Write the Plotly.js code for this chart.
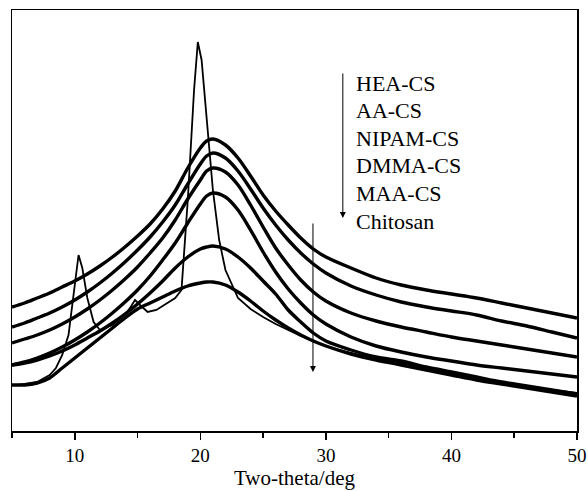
<!DOCTYPE html>
<html><head><meta charset="utf-8">
<script src="https://cdn.plot.ly/plotly-3.0.1.min.js"></script>
<style>html,body{margin:0;padding:0;background:#fff}</style>
</head><body><div id="chart" style="width:588px;height:491px"></div>
<script>
// Two-theta (deg) sample positions
const twoTheta = [5,6,7,8,9,10,11,12,13,14,15,16,17,18,19,20,20.5,21,22,23,24,25,26,27,28,29,30,32,34,36,38,40,42,44,46,48,50];
// intensities (a.u.)
const heaCS   = [124,128,133,138,144,150,157,165,174,184,195,207,222,240,263,283,290,292,286,273,255,236,220,206,193,182,174,163,153,146,141,137,133,128,123,118,113];
const aaCS    = [104,108,113,118,124,131,139,148,158,169,181,194,209,226,247,267,275,278,273,260,242,223,206,191,178,167,158,145,136,129,124,120,116,110,105,99,93];
const nipamCS = [88,92,96,101,107,114,122,131,141,152,164,178,193,211,232,251,260,263,259,246,226,204,183,166,151,139,130,118,110,104,99,94,90,86,82,78,74];
const dmmaCS  = [66,69,73,78,84,91,99,108,118,129,141,155,171,188,208,227,235,238,234,221,201,179,159,142,128,116,107,94,85,79,74,70,66,63,60,57,54];
const maaCS   = [66,68,71,75,80,86,93,100,108,117,127,138,150,163,174,182,184,185,182,174,163,150,137,121,109,98,90,81,74,70,64,59,54,49,45,41,37];
const lowHump = [46,46,48,53,63,73,83,93,103,113,122,128,134,140,145,148,149,149,146,139,130,120,111,103,96,90,85,77,71,66,61,56,51,47,43,39,35];
const chitoTheta = [5,6,7,8,8.5,9,9.5,10,10.3,10.6,11,11.5,12,13,14,14.5,14.8,15.2,15.8,16.5,17,17.5,18,18.5,19,19.5,19.8,20.1,20.5,21,21.5,22,23,23.7,24,25,26,27,28,29,30,32,34,36,38,40,42,44,46,48,50];
const chitosan = [46,47,49,56,63,76,96,146,176,163,133,109,101,106,116,125,131,126,119,121,125,129,133,141,231,341,389,371,311,241,191,161,133,125,122,114,107,101,95,90,85,78,72,68,63,58,53,49,45,41,38];

const xTicks = [10,20,30,40,50];
const labels = ["HEA-CS","AA-CS","NIPAM-CS","DMMA-CS","MAA-CS","Chitosan"];

const broad = [heaCS, aaCS, nipamCS, dmmaCS, maaCS, lowHump];
const traces = broad.map(s => ({x: twoTheta, y: s, mode:'lines', type:'scatter', hoverinfo:'skip',
  line:{color:'#000', width:3.4, shape:'spline', smoothing:0.9}}));
traces.push({x: chitoTheta, y: chitosan, mode:'lines', type:'scatter', hoverinfo:'skip', line:{color:'#000', width:1.8}});

const font = {family:'"Liberation Serif", "Times New Roman", serif', color:'#000'};
const annotations = labels.map((t,i) => ({
  xref:'paper', yref:'paper', x:0.605, y:(431-(83+27.6*i))/421, xanchor:'left', yanchor:'middle',
  text:t, showarrow:false, font:Object.assign({size:22}, font)
}));
annotations.push({xref:'x', yref:'y', axref:'x', ayref:'y', x:31.35, y:213, ax:31.35, ay:359, text:'', showarrow:true, arrowhead:2, arrowsize:1.2, arrowwidth:1, arrowcolor:'#000'});
annotations.push({xref:'x', yref:'y', axref:'x', ayref:'y', x:28.97, y:59, ax:28.97, ay:209, text:'', showarrow:true, arrowhead:2, arrowsize:1.2, arrowwidth:1, arrowcolor:'#000'});

const layout = {
  width:588, height:491, margin:{l:12, r:11, t:10, b:60},
  paper_bgcolor:'#fff', plot_bgcolor:'#fff', showlegend:false,
  xaxis:{range:[5,50], tickvals:xTicks, ticks:'outside', ticklen:7, tickwidth:1.5, tickcolor:'#000',
    minor:{dtick:5, tick0:5, ticks:'outside', ticklen:5, tickwidth:1.5, tickcolor:'#000'},
    showline:true, mirror:true, linecolor:'#000', linewidth:1.5, showgrid:false, zeroline:false,
    tickfont:Object.assign({size:19}, font),
    title:{text:'Two-theta/deg', font:Object.assign({size:21}, font), standoff:5}},
  yaxis:{range:[0,421], showticklabels:false, ticks:'', showline:true, mirror:true, linecolor:'#000', linewidth:1.5, showgrid:false, zeroline:false},
  annotations
};
Plotly.newPlot('chart', traces, layout, {staticPlot:true, displayModeBar:false});
</script></body></html>
